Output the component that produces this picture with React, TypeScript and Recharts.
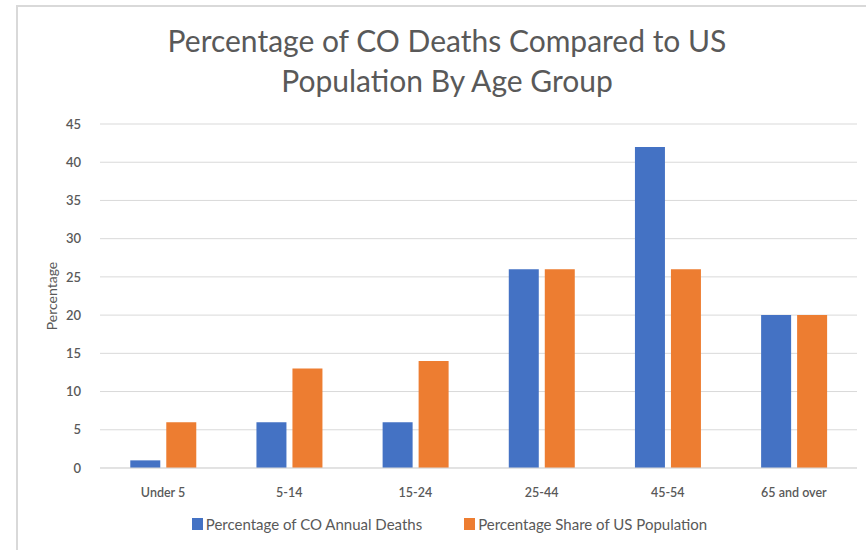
import { Bar, BarChart, CartesianGrid, Legend, XAxis, YAxis } from 'recharts';

const ageGroups = ['Under 5', '5-14', '15-24', '25-44', '45-54', '65 and over'];
const coDeaths = [1, 6, 6, 26, 42, 20];
const usPopulation = [6, 13, 14, 26, 26, 20];
const yTicks = [0, 5, 10, 15, 20, 25, 30, 35, 40, 45];

const BLUE = '#4472C4';
const ORANGE = '#ED7D31';
const TEXT = '#595959';
const GRID = '#d9d9d9';
const FONT = 'Lato, "Open Sans", sans-serif';

const rows = ageGroups.map((group, i) => ({
  group,
  deaths: coDeaths[i],
  population: usPopulation[i],
}));

function LegendRow() {
  const items = [
    { label: 'Percentage of CO Annual Deaths', color: BLUE },
    { label: 'Percentage Share of US Population', color: ORANGE },
  ];
  return (
    <div style={{ position: 'relative', top: 7, display: 'flex', justifyContent: 'center', gap: 42, paddingLeft: 2 }}>
      {items.map((it) => (
        <span key={it.label} style={{ display: 'flex', alignItems: 'center', fontSize: 15, color: TEXT }}>
          <i style={{ display: 'inline-block', width: 11, height: 12, background: it.color, marginRight: 3 }} />
          {it.label}
        </span>
      ))}
    </div>
  );
}

export default function App() {
  return (
    <div style={{ position: 'absolute', left: 0, top: 0, width: 866, height: 550, background: '#fff', fontFamily: FONT }}>
      <div
        style={{
          position: 'absolute',
          left: 16,
          top: 5,
          right: 0,
          bottom: 0,
          borderTop: `2px solid ${GRID}`,
          borderLeft: `2px solid ${GRID}`,
        }}
      />
      <div
        style={{
          position: 'absolute',
          left: 47,
          width: 800,
          top: 20,
          textAlign: 'center',
          fontSize: 30,
          lineHeight: '40px',
          color: TEXT,
        }}
      >
        Percentage of CO Deaths Compared to US
        <br />
        Population By Age Group
      </div>
      <div style={{ position: 'absolute', left: 0, top: 0 }}>
        <BarChart
          width={866}
          height={550}
          data={rows}
          margin={{ top: 124, right: 9, bottom: 22, left: 40 }}
          barGap={6}
          barCategoryGap="24%"
        >
          <CartesianGrid vertical={false} stroke={GRID} />
          <XAxis
            dataKey="group"
            axisLine={{ stroke: GRID }}
            tickLine={false}
            tickMargin={14}
            height={40}
            tick={{ fill: TEXT, fontSize: 12.5, fontFamily: FONT, fontWeight: 600 }}
          />
          <YAxis
            domain={[0, 45]}
            ticks={yTicks}
            width={60}
            axisLine={false}
            tickLine={false}
            tickMargin={13}
            tick={{ fill: TEXT, fontSize: 13, fontFamily: FONT, fontWeight: 600 }}
            label={{
              value: 'Percentage',
              angle: -90,
              position: 'insideLeft',
              offset: 12,
              style: { fill: TEXT, fontSize: 14, fontFamily: FONT, textAnchor: 'middle' },
            }}
          />
          <Legend verticalAlign="bottom" height={20} content={() => <LegendRow />} />
          <Bar dataKey="deaths" name="Percentage of CO Annual Deaths" fill={BLUE} isAnimationActive={false} />
          <Bar dataKey="population" name="Percentage Share of US Population" fill={ORANGE} isAnimationActive={false} />
        </BarChart>
      </div>
    </div>
  );
}
